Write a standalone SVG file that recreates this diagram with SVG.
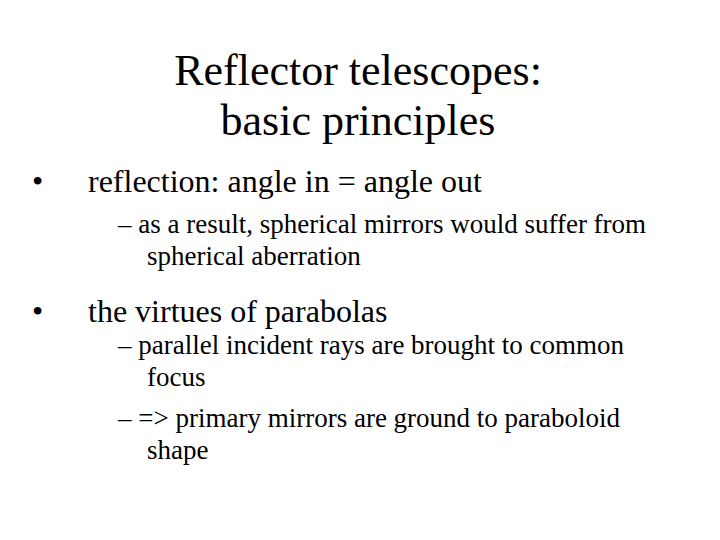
<svg xmlns="http://www.w3.org/2000/svg" width="720" height="540" viewBox="0 0 720 540">
<style>
text{font-family:"Liberation Serif","Times New Roman",serif;fill:#000}
.t{font-size:44px;text-anchor:middle}
.b{font-size:32px}
.s{font-size:27px}
</style>
<rect width="720" height="540" fill="#fff"/>
<text class="t" x="358" y="85">Reflector telescopes:</text>
<text class="t" x="358" y="135">basic principles</text>
<text class="b" x="32" y="192">•</text>
<text class="b" x="88" y="192">reflection: angle in = angle out</text>
<text class="s" x="118" y="233">– as a result, spherical mirrors would suffer from</text>
<text class="s" x="147" y="265">spherical aberration</text>
<text class="b" x="32" y="322">•</text>
<text class="b" x="88" y="322">the virtues of parabolas</text>
<text class="s" x="118" y="354">– parallel incident rays are brought to common</text>
<text class="s" x="147" y="386">focus</text>
<text class="s" x="118" y="427">– =&gt; primary mirrors are ground to paraboloid</text>
<text class="s" x="147" y="459">shape</text>
</svg>
